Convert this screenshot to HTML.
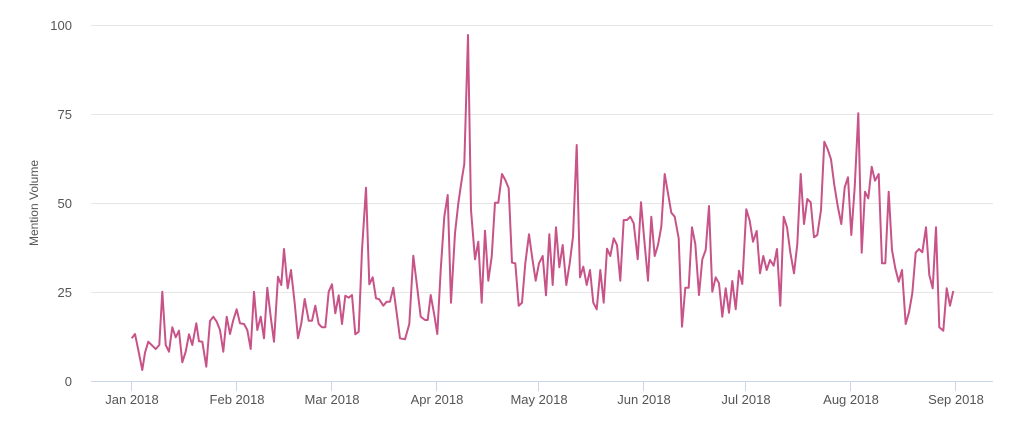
<!DOCTYPE html>
<html><head><meta charset="utf-8"><style>
html,body{margin:0;padding:0;background:#fff;}
svg text{font-family:"Liberation Sans",sans-serif;fill:#555;}
</style></head><body>
<svg id="s" width="1024" height="423" xmlns="http://www.w3.org/2000/svg">
<g stroke="#e6e6e6" stroke-width="1">
<line x1="91" x2="993" y1="25.5" y2="25.5"/>
<line x1="91" x2="993" y1="114.5" y2="114.5"/>
<line x1="91" x2="993" y1="203.5" y2="203.5"/>
<line x1="91" x2="993" y1="292.5" y2="292.5"/>
</g>
<line x1="91" x2="993" y1="381.5" y2="381.5" stroke="#ccd6eb" stroke-width="1"/>
<g stroke="#ccd6eb" stroke-width="1">
<line x1="131.5" x2="131.5" y1="381" y2="391"/>
<line x1="236.5" x2="236.5" y1="381" y2="391"/>
<line x1="331.5" x2="331.5" y1="381" y2="391"/>
<line x1="436.5" x2="436.5" y1="381" y2="391"/>
<line x1="538.5" x2="538.5" y1="381" y2="391"/>
<line x1="643.5" x2="643.5" y1="381" y2="391"/>
<line x1="745.5" x2="745.5" y1="381" y2="391"/>
<line x1="850.5" x2="850.5" y1="381" y2="391"/>
<line x1="955.5" x2="955.5" y1="381" y2="391"/>
</g>
<g font-size="13" text-anchor="middle">
<text x="132" y="404">Jan 2018</text>
<text x="237" y="404">Feb 2018</text>
<text x="332" y="404">Mar 2018</text>
<text x="437" y="404">Apr 2018</text>
<text x="539" y="404">May 2018</text>
<text x="644" y="404">Jun 2018</text>
<text x="746" y="404">Jul 2018</text>
<text x="851" y="404">Aug 2018</text>
<text x="956" y="404">Sep 2018</text>
</g>
<g font-size="13" text-anchor="end">
<text x="72" y="30">100</text>
<text x="72" y="119">75</text>
<text x="72" y="208">50</text>
<text x="72" y="297">25</text>
<text x="72" y="386">0</text>
</g>
<text font-size="12" text-anchor="middle" transform="translate(38,203) rotate(-90)">Mention Volume</text>
<path id="p" fill="none" stroke="#c75388" stroke-width="2" stroke-linejoin="round"/>
</svg>
<script>
var pts=[];
var X1=[35,45,55,67,75,85,97,107,118,127,137,147,157,167,177,187,197,207,217,229,237,247,259,270,280,290,300,310,320,330,340,350,360,372,382,392,402,412,422,432,442,452,462,474,484,492,503,513,524,534,544,554,566,576,586,596,606,616,626,636,646,656,666,676,686,696,706,716,726,738,748,758,768,778,790,800,810,820,830,840];
var Y1=[565,552,600,660,608,575,587,597,585,425,585,605,532,562,542,637,605,553,585,520,574,575,650,513,500,515,540,605,500,552,510,478,520,522,540,597,425,540,500,565,413,500,575,380,405,297,415,360,460,565,520,447,512,512,467,522,532,532,425,403,490,436,522,437,443,435,553,545,300,113,403,382,445,448,467,455,455,413,490,565];
for(var i=0;i<X1.length;i++)pts.push([120+X1[i]/3,150+Y1[i]/3]);
var Z2=[[15,958],[28,912],[40,707],[50,790],[62,890],[75,900],[83,900],[92,825],[103,885],[112,942],[122,750],[133,590],[143,525],[153,848],[165,640],[175,550],[185,480],[193,432],[204,45],[213,570],[225,718],[235,665],[245,848],[255,632],[265,782],[275,710],[285,548],[295,548],[306,462],[316,480],[326,505],[336,728],[346,730],[356,857],[366,848],[376,730],[387,643],[397,715],[407,782],[417,730],[428,708],[438,826],[448,643],[458,795],[468,622],[478,742],[488,675],[499,795],[509,730],[519,650],[530,375],[540,772],[550,740],[560,795],[570,750],[580,848],[590,868],[601,750],[611,848],[621,686],[631,708],[641,655],[651,675],[661,782],[671,600],[681,600],[691,590],[701,610],[713,718],[723,547],[733,660],[744,782],[754,590],[764,708],[774,675],[784,620],[794,462],[804,520],[814,578],[824,590],[836,655],[846,920],[856,803],[866,803]];
Z2.forEach(function(p){pts.push([400+p[0]/3,20+p[1]/3]);});
var Z3=[[36,382],[46,432],[57,585],[67,478],[77,450],[87,318],[97,575],[107,532],[117,550],[127,650],[137,565],[147,638],[157,543],[167,628],[177,512],[187,552],[199,328],[209,362],[219,425],[230,393],[240,520],[250,468],[260,510],[270,480],[281,497],[291,447],[301,617],[311,350],[321,382],[331,457],[342,520],[352,432],[362,222],[372,372],[382,297],[392,307],[402,412],[412,405],[423,330],[433,125],[443,148],[453,178],[463,255],[473,318],[484,372],[494,262],[504,232],[514,405],[524,262],[535,40],[545,458],[555,275],[565,295],[575,200],[585,242],[596,222],[606,490],[616,490],[626,275],[636,450],[646,505],[656,545],[666,510],[677,672],[687,637],[697,580],[707,458],[717,447],[727,457],[738,382],[748,525],[758,565],[768,382],[778,682],[790,692],[800,565],[810,617],[820,573]];
Z3.forEach(function(p){pts.push([680+p[0]/3,100+p[1]/3]);});
document.getElementById('p').setAttribute('d','M'+pts.map(function(p){return p[0].toFixed(1)+','+p[1].toFixed(1);}).join('L'));
</script>
</body></html>
